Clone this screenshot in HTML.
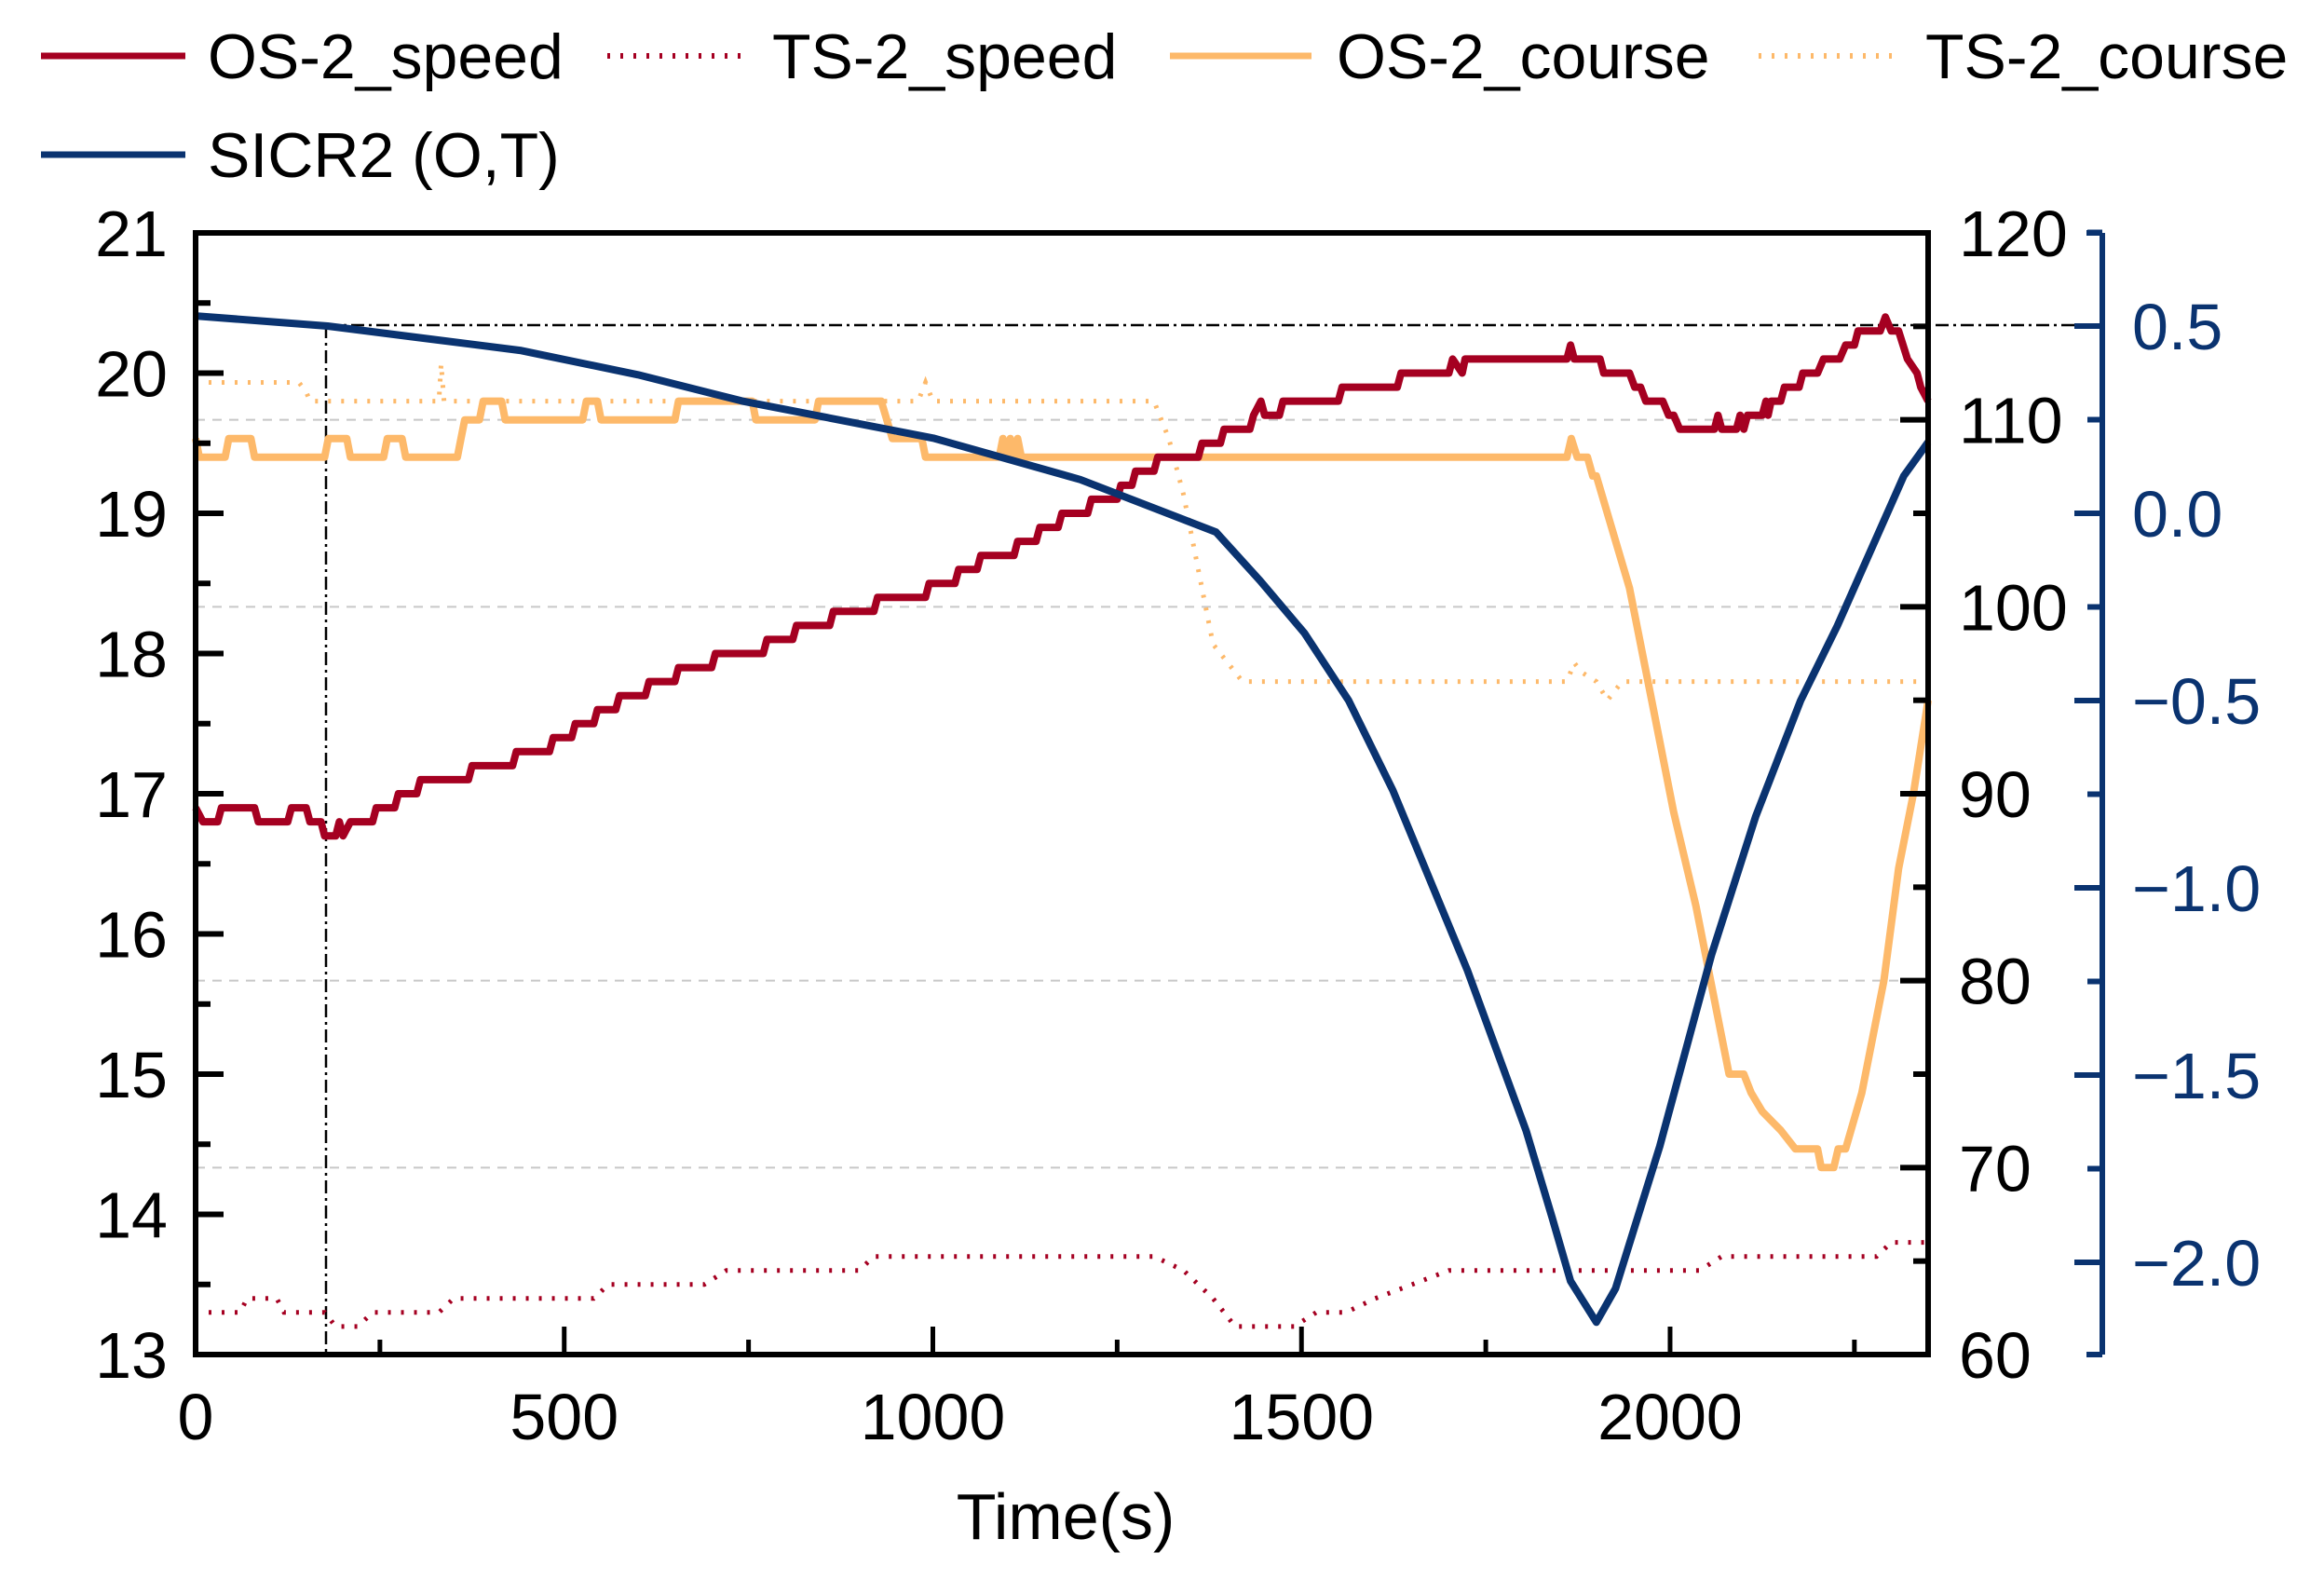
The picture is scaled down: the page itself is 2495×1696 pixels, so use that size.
<!DOCTYPE html>
<html><head><meta charset="utf-8"><style>
html,body{margin:0;padding:0;background:#fff;}
svg{display:block;}
text{font-family:"Liberation Sans",Arial,sans-serif;}
</style></head><body>
<svg id="s" width="2495" height="1696" viewBox="0 0 2495 1696" xmlns="http://www.w3.org/2000/svg">
<rect width="2495" height="1696" fill="#fff"/>
<g id="grid"></g>
<g id="series"></g>
<g id="axes"></g>
<g font-size="68" fill="#000">
<line x1="44" y1="60" x2="199" y2="60" stroke="#A50021" stroke-width="7"/>
<text x="223" y="84">OS-2_speed</text>
<line x1="652" y1="60" x2="805" y2="60" stroke="#A50021" stroke-width="6" stroke-dasharray="3,11"/>
<text x="829" y="84">TS-2_speed</text>
<line x1="1256" y1="60" x2="1408" y2="60" stroke="#FDB96A" stroke-width="7"/>
<text x="1435" y="84">OS-2_course</text>
<line x1="1888" y1="60" x2="2040" y2="60" stroke="#FDB96A" stroke-width="6" stroke-dasharray="3,11"/>
<text x="2067" y="84">TS-2_course</text>
<line x1="44" y1="166" x2="199" y2="166" stroke="#0A3370" stroke-width="7"/>
<text x="223" y="190">SICR2 (O,T)</text>
</g>
<text x="1144" y="1652" font-size="70" text-anchor="middle">Time(s)</text>
</svg>
<script>
var L=210,R=2070,T=250,B=1454,TMAX=2350;
function X(t){return L+t*(R-L)/TMAX;}
function YS(v){return B-(v-13)*(B-T)/8;}
function YC(v){return B-(v-60)*(B-T)/60;}
function YR(v){return 551-402*v;}
var NS="http://www.w3.org/2000/svg";
function el(p,tag,a,txt){var e=document.createElementNS(NS,tag);for(var k in a)e.setAttribute(k,a[k]);if(txt!==undefined)e.textContent=txt;document.getElementById(p).appendChild(e);return e;}
function path(p,pts,fy,attrs){var d=pts.map(function(q,i){return (i?'L':'M')+X(q[0]).toFixed(1)+' '+fy(q[1]).toFixed(1);}).join(' ');attrs.d=d;attrs.fill='none';el(p,'path',attrs);}
[110,100,80,70].forEach(function(c){el('grid','line',{x1:L,x2:R,y1:YC(c),y2:YC(c),stroke:'#c8c8c8','stroke-width':2,'stroke-dasharray':'10,8'});});
el('grid','line',{x1:350,x2:2255,y1:349,y2:349,stroke:'#000','stroke-width':2.5,'stroke-dasharray':'14,5,3,5'});
el('grid','line',{x1:350,x2:350,y1:349,y2:B,stroke:'#000','stroke-width':2.5,'stroke-dasharray':'14,5,3,5'});
var osS=[[0,16.9],[10,16.8],[30,16.8],[35,16.9],[80,16.9],[85,16.8],[125,16.8],[130,16.9],[150,16.9],[155,16.8],[170,16.8],[175,16.7],[190,16.7],[195,16.8],[200,16.7],[210,16.8],[240,16.8],[245,16.9],[270,16.9],[275,17.0],[300,17.0],[305,17.1],[370,17.1],[375,17.2],[430,17.2],[435,17.3],[480,17.3],[485,17.4],[510,17.4],[515,17.5],[540,17.5],[545,17.6],[570,17.6],[575,17.7],[610,17.7],[615,17.8],[650,17.8],[655,17.9],[700,17.9],[705,18.0],[770,18.0],[775,18.1],[810,18.1],[815,18.2],[860,18.2],[865,18.3],[920,18.3],[925,18.4],[990,18.4],[995,18.5],[1030,18.5],[1035,18.6],[1060,18.6],[1065,18.7],[1110,18.7],[1115,18.8],[1140,18.8],[1145,18.9],[1170,18.9],[1175,19.0],[1210,19.0],[1215,19.1],[1250,19.1],[1255,19.2],[1270,19.2],[1275,19.3],[1300,19.3],[1305,19.4],[1360,19.4],[1365,19.5],[1390,19.5],[1395,19.6],[1430,19.6],[1435,19.7],[1445,19.8],[1450,19.7],[1470,19.7],[1475,19.8],[1550,19.8],[1555,19.9],[1630,19.9],[1635,20.0],[1700,20.0],[1705,20.1],[1718,20.0],[1722,20.1],[1860,20.1],[1865,20.2],[1870,20.1],[1905,20.1],[1910,20.0],[1945,20.0],[1952,19.9],[1960,19.9],[1967,19.8],[1990,19.8],[1998,19.7],[2005,19.7],[2013,19.6],[2060,19.6],[2065,19.7],[2070,19.6],[2090,19.6],[2095,19.7],[2100,19.6],[2105,19.7],[2125,19.7],[2130,19.8],[2133,19.7],[2137,19.8],[2150,19.8],[2155,19.9],[2175,19.9],[2180,20.0],[2200,20.0],[2208,20.1],[2230,20.1],[2238,20.2],[2250,20.2],[2255,20.3],[2285,20.3],[2292,20.4],[2300,20.3],[2310,20.3],[2322,20.1],[2335,20.0],[2340,19.9],[2350,19.8]];
var tsS=[[0,13.3],[60,13.3],[70,13.4],[110,13.4],[120,13.3],[175,13.3],[190,13.2],[220,13.2],[240,13.3],[330,13.3],[350,13.4],[540,13.4],[560,13.5],[690,13.5],[720,13.6],[900,13.6],[920,13.7],[1300,13.7],[1340,13.6],[1380,13.4],[1410,13.2],[1490,13.2],[1520,13.3],[1560,13.3],[1600,13.4],[1650,13.5],[1700,13.6],[2040,13.6],[2070,13.7],[2280,13.7],[2300,13.8],[2350,13.8]];
var osC=[[0,109],[5,108],[40,108],[45,109],[75,109],[80,108],[175,108],[180,109],[205,109],[210,108],[255,108],[260,109],[280,109],[285,108],[355,108],[360,109],[365,110],[385,110],[390,111],[415,111],[420,110],[525,110],[530,111],[545,111],[550,110],[650,110],[655,111],[755,111],[760,110],[840,110],[845,111],[930,111],[945,109],[985,109],[990,108],[1090,108],[1095,109],[1100,108],[1105,109],[1110,108],[1115,109],[1120,108],[1860,108],[1866,109],[1874,108],[1888,108],[1895,107],[1900,107],[1945,101],[1975,95],[2005,89],[2035,84],[2065,78],[2080,75],[2100,75],[2110,74],[2125,73],[2150,72],[2170,71],[2200,71],[2205,70],[2222,70],[2228,71],[2238,71],[2260,74],[2290,80],[2310,86],[2330,90],[2350,95]];
var tsC=[[0,112],[140,112],[150,111.5],[155,111],[330,111],[333,113],[337,111],[980,111],[990,112],[1000,111],[1300,111],[1320,109],[1340,106],[1360,102],[1380,98],[1400,97],[1420,96],[1860,96],[1870,97],[1880,96.5],[1900,96],[1915,95],[1935,96],[2350,96]];
var sicr=[[0,0.527],[179,0.5],[300,0.47],[440,0.435],[600,0.37],[741,0.30],[1002,0.2],[1200,0.09],[1384,-0.05],[1444,-0.18],[1504,-0.32],[1564,-0.5],[1624,-0.74],[1725,-1.22],[1805,-1.65],[1840,-1.88],[1865,-2.05],[1900,-2.16],[1926,-2.07],[1986,-1.69],[2056,-1.18],[2116,-0.81],[2177,-0.5],[2227,-0.3],[2317,0.1],[2350,0.19]];
path('series',tsC,YC,{stroke:'#FDB96A','stroke-width':5,'stroke-dasharray':'3,11'});
path('series',tsS,YS,{stroke:'#A50021','stroke-width':5,'stroke-dasharray':'3,11'});
path('series',osC,YC,{stroke:'#FDB96A','stroke-width':8,'stroke-linejoin':'round'});
path('series',osS,YS,{stroke:'#A50021','stroke-width':8,'stroke-linejoin':'round'});
path('series',sicr,YR,{stroke:'#0A3370','stroke-width':8,'stroke-linejoin':'round'});
el('axes','rect',{x:L,y:T,width:R-L,height:B-T,fill:'none',stroke:'#000','stroke-width':6});
for(var v=13;v<=21;v+=0.5){var y=YS(v),maj=(v%1===0);el('axes','line',{x1:L,x2:L+(maj?30:16),y1:y,y2:y,stroke:'#000','stroke-width':6});
 if(maj)el('axes','text',{x:180,y:y+25,'font-size':70,'text-anchor':'end'},String(v));}
for(var c=60;c<=120;c+=5){var y=YC(c),maj=(c%10===0);el('axes','line',{x1:R,x2:R-(maj?30:16),y1:y,y2:y,stroke:'#000','stroke-width':6});
 if(maj)el('axes','text',{x:2103,y:y+25,'font-size':70},String(c));}
for(var t=0;t<=2350;t+=250){var x=X(t),maj=(t%500===0);el('axes','line',{x1:x,x2:x,y1:B,y2:B-(maj?30:16),stroke:'#000','stroke-width':5});
 if(maj)el('axes','text',{x:x,y:1545,'font-size':70,'text-anchor':'middle'},String(t));}
el('axes','line',{x1:2257,x2:2257,y1:T,y2:B,stroke:'#0A3370','stroke-width':6});
for(var k=-9;k<=3;k++){var v=k*0.25,y=YR(v);if(y<T-1||y>B+1)continue;var maj=(k%2===0);
 el('axes','line',{x1:2257,x2:2257-(maj?30:16),y1:y,y2:y,stroke:'#0A3370','stroke-width':6});
 if(maj){var s=(v<0?'\u2212':'')+Math.abs(v).toFixed(1);el('axes','text',{x:2289,y:y+25,'font-size':70,fill:'#0A3370'},s);}}
el('axes','line',{x1:2240,x2:2257,y1:T,y2:T,stroke:'#0A3370','stroke-width':6});
el('axes','line',{x1:2240,x2:2257,y1:B,y2:B,stroke:'#0A3370','stroke-width':6});
</script>
</body></html>
